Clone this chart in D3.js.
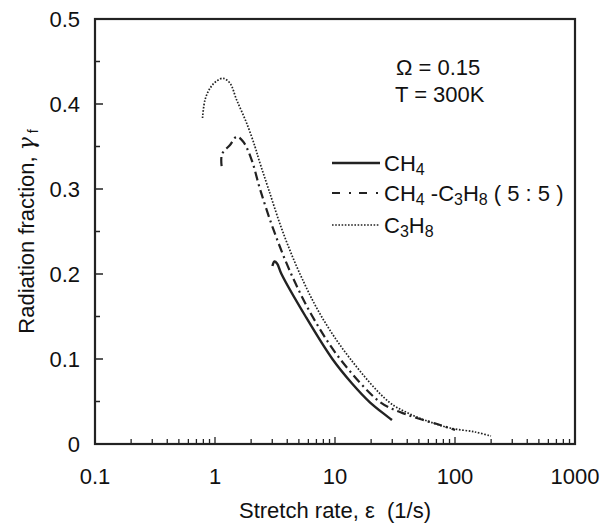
<!DOCTYPE html>
<html>
<head>
<meta charset="utf-8">
<script src="https://cdn.jsdelivr.net/npm/d3@7"></script>
<style>
  body { margin: 0; background: #fff; }
  text { font-family: "Liberation Sans", Arial, sans-serif; fill: #111; }
</style>
</head>
<body>
<div id="chart"></div>
<script>
// values (stretch rate in 1/s, radiation fraction)
var ch4X = [3.01, 3.13, 3.29, 3.58, 5.69, 9.51, 13.75, 19.43, 29.85];
var ch4Y = [0.2094, 0.2147, 0.2124, 0.200, 0.150, 0.100, 0.0718, 0.0494, 0.0282];

var mixX = [1.135, 1.144, 1.334, 1.516, 1.721, 2.022, 2.371, 3.10, 4.315, 6.49, 11.03, 23.71, 34.8, 51.1, 75.0, 100];
var mixY = [0.327, 0.341, 0.3518, 0.3615, 0.3556, 0.3341, 0.300, 0.2506, 0.200, 0.150, 0.100, 0.0494, 0.0376, 0.0294, 0.0224, 0.0165];

var c3h8X = [0.787, 0.825, 0.908, 1.033, 1.173, 1.334, 1.516, 1.837, 2.154, 2.326, 2.791, 3.652, 5.109, 7.72, 13.44, 28.18, 42.17, 61.9, 90.85, 146.8, 199.5];
var c3h8Y = [0.3835, 0.4047, 0.4185, 0.4271, 0.4302, 0.4244, 0.4047, 0.3773, 0.3498, 0.3341, 0.300, 0.2506, 0.200, 0.150, 0.100, 0.0494, 0.0353, 0.0259, 0.0188, 0.0141, 0.0094];

var xTickLabels = ["0.1", "1", "10", "100", "1000"];
var yTickLabels = ["0", "0.1", "0.2", "0.3", "0.4", "0.5"];

var width = 613, height = 526;
var plotL = 95, plotR = 575, plotT = 19, plotB = 444;
var fs = 22;

var svg = d3.select("#chart")
    .append("svg")
    .attr("width", width)
    .attr("height", height);

var x = d3.scaleLog().domain([0.1, 1000]).range([plotL, plotR]);
var y = d3.scaleLinear().domain([0, 0.5]).range([plotB, plotT]);

function label(px, py, anchor){
    return svg.append("text")
        .attr("x", px)
        .attr("y", py)
        .attr("text-anchor", anchor || "start")
        .attr("font-size", fs)
        .style("white-space", "pre");
}

// minor + major ticks on the bottom, pointing inward
var xMinor = x.ticks();
svg.append("g")
    .selectAll("line")
    .data(xMinor)
    .enter().append("line")
    .attr("x1", function(d){return x(d)})
    .attr("x2", function(d){return x(d)})
    .attr("y1", plotB)
    .attr("y2", function(d){
        var l = Math.log10(d);
        return Math.abs(l - Math.round(l)) < 1e-6 ? plotB - 7 : plotB - 5;
    })
    .attr("stroke", "#222")
    .attr("stroke-width", 1.3);

// left ticks every 0.05
var yTicks = d3.range(0, 0.5001, 0.05);
svg.append("g")
    .selectAll("line")
    .data(yTicks)
    .enter().append("line")
    .attr("x1", plotL)
    .attr("x2", function(d, i){return i % 2 == 0 ? plotL + 8 : plotL + 5})
    .attr("y1", function(d){return y(d)})
    .attr("y2", function(d){return y(d)})
    .attr("stroke", "#222")
    .attr("stroke-width", 1.5);

// frame
svg.append("rect")
    .attr("x", plotL)
    .attr("y", plotT)
    .attr("width", plotR - plotL)
    .attr("height", plotB - plotT)
    .attr("fill", "none")
    .attr("stroke", "#222")
    .attr("stroke-width", 2.2);

// tick labels
xTickLabels.forEach(function(d){
    label(x(+d), 484, "middle").text(d);
});
yTickLabels.forEach(function(d){
    label(80, y(+d) + 8, "end").text(d);
});

// axis titles
label((plotL + plotR) / 2, 518, "middle").text("Stretch rate, \u03b5  (1/s)");

var yl = svg.append("text")
    .attr("transform", "translate(34," + ((plotT + plotB) / 2) + ") rotate(-90)")
    .attr("text-anchor", "middle")
    .attr("font-size", fs)
    .style("white-space", "pre");
yl.append("tspan").text("Radiation fraction, ");
yl.append("tspan").attr("font-style", "italic").attr("font-family", "DejaVu Serif, serif").text("\u03b3");
yl.append("tspan").attr("font-size", 14).attr("dy", 4).text(" f");

// curves
var line = d3.line()
    .x(function(d){return x(d[0])})
    .y(function(d){return y(d[1])})
    .curve(d3.curveCatmullRom.alpha(0.5));

var series = [
    {xs: ch4X, ys: ch4Y, dash: null, w: 2.4},
    {xs: mixX, ys: mixY, dash: "9,4,2,4", w: 2.2},
    {xs: c3h8X, ys: c3h8Y, dash: "1.6,1.6", w: 1.7}
];

series.forEach(function(s){
    var pts = s.xs.map(function(v, i){return [v, s.ys[i]]});
    svg.append("path")
        .attr("d", line(pts))
        .attr("fill", "none")
        .attr("stroke", "#222")
        .attr("stroke-width", s.w)
        .attr("stroke-dasharray", s.dash);
});

// annotation
label(396, 75).text("\u03a9 = 0.15");
label(395, 102).text("T = 300K");

// legend
var legRows = [
    {y: 163, dash: null, w: 2.4, parts: [["CH", 0], ["4", 1]]},
    {y: 193, dash: "8,9,2,8", w: 2.2, parts: [["CH", 0], ["4", 1], [" -C", 0], ["3", 1], ["H", 0], ["8", 1], [" ( 5 : 5 )", 0]]},
    {y: 225, dash: "1.6,1.6", w: 1.7, parts: [["C", 0], ["3", 1], ["H", 0], ["8", 1]]}
];

legRows.forEach(function(r){
    svg.append("line")
        .attr("x1", 332).attr("x2", 380)
        .attr("y1", r.y).attr("y2", r.y)
        .attr("stroke", "#222")
        .attr("stroke-width", r.w)
        .attr("stroke-dasharray", r.dash);
    var t = label(384, r.y + 8);
    var prevSub = 0;
    r.parts.forEach(function(p){
        var ts = t.append("tspan").text(p[0]);
        if(p[1] == 1){
            ts.attr("font-size", 16).attr("dy", 4);
        } else if(prevSub == 1){
            ts.attr("dy", -4);
        }
        prevSub = p[1];
    });
});
</script>
</body>
</html>
